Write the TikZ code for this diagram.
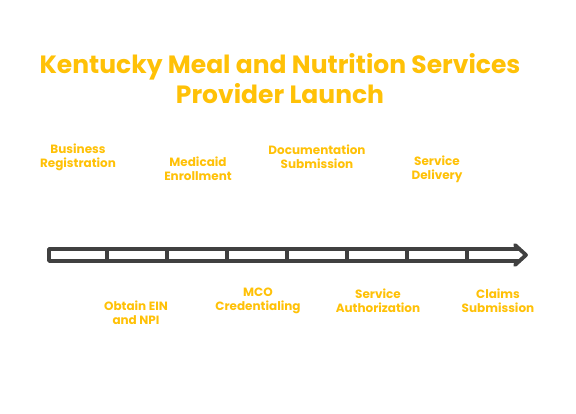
\documentclass[tikz,border=0pt]{standalone}
\usepackage{fontspec}
\setmainfont{Poppins}
\definecolor{gold}{RGB}{255,193,7}
\definecolor{barline}{RGB}{64,64,64}
\begin{document}
\begin{tikzpicture}[x=1pt,y=-1pt,
    steplabel/.style={text=gold, font=\fontsize{12}{14}\selectfont\bfseries, align=center, inner sep=0pt},
    barstroke/.style={draw=barline, line width=3.8pt, line join=round, line cap=round}]
  % Fix the page to the size of the reference
  \useasboundingbox (0,0) rectangle (576,414);
  % Title on two lines
  \node [text=gold, font=\fontsize{25}{30}\selectfont\bfseries, align=center] (title) at (280,79)
    {Kentucky Meal and Nutrition Services\\Provider Launch};
  % The timeline bar, split into eight steps
  \coordinate (barstart) at (49,249);
  \coordinate (barend) at (519,261);
  \draw [barstroke] (barend |- barstart) -- (barstart) -- (barstart |- barend) -- (barend);
  \foreach \k in {1,...,7} {
    \draw [barstroke] (47+60*\k,249) -- (47+60*\k,261);
  }
  % Open arrow head at the end
  \coordinate (tip) at (526,255);
  \draw [barstroke] (515,245) -- (tip) -- (515,265);
  % Step labels, above and below the bar in turn
  \foreach \x/\y/\txt [count=\n] in {
    78/157/{Business\\Registration},
    136/313/{Obtain EIN\\and NPI},
    198/169/{Medicaid\\Enrollment},
    258/301/{MCO\\Credentialing},
    317/157/{Documentation\\Submission},
    378/301/{Service\\Authorization},
    437/169/{Service\\Delivery},
    498/301/{Claims\\Submission}} {
    \node [steplabel] (step\n) at (\x,\y) {\txt};
  }
\end{tikzpicture}
\end{document}
